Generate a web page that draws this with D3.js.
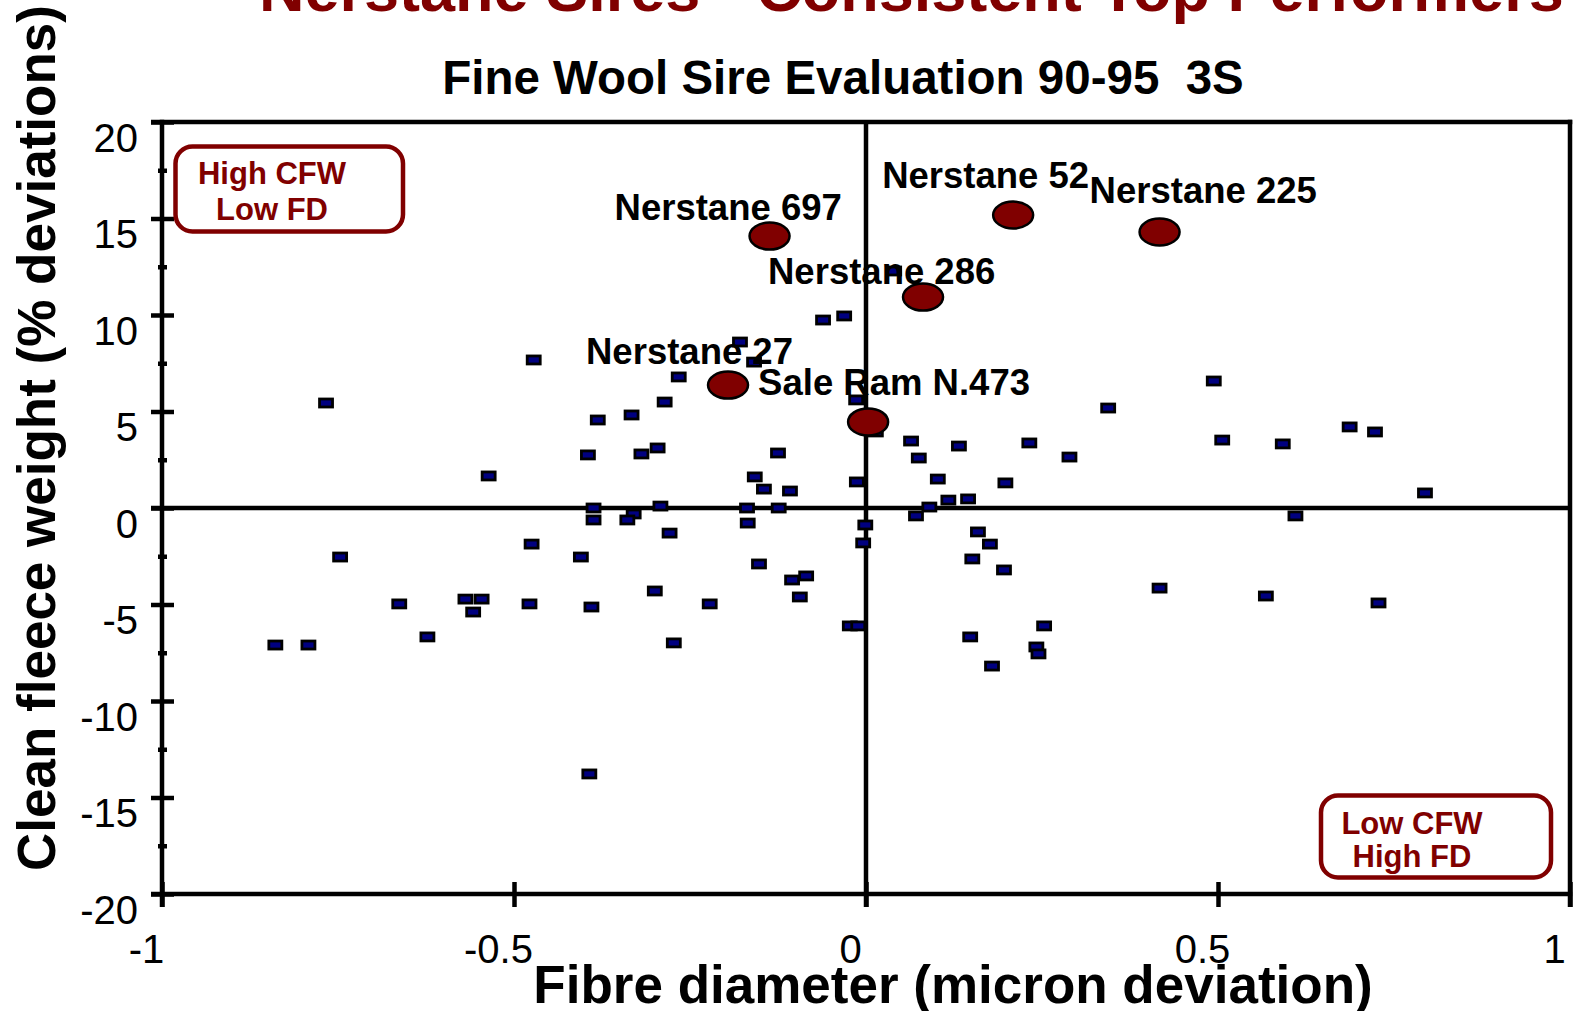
<!DOCTYPE html>
<html><head><meta charset="utf-8">
<script src="https://cdn.jsdelivr.net/npm/d3@7"></script>
<style>
body{margin:0;background:#fff;}
svg{display:block;font-family:"Liberation Sans",Arial,Helvetica,sans-serif;}
</style></head><body>
<svg id="chart" width="1577" height="1011"></svg>
<script>
// ---------- data ----------
const mainTitle = "Nerstane Sires - Consistent Top Performers";
const subTitle = "Fine Wool Sire Evaluation 90-95  3S";
const xTitle = "Fibre diameter (micron deviation)";
const yTitle = "Clean fleece weight (% deviations)";
const xTicks = [-1, -0.5, 0, 0.5, 1];
const xTickLabels = ["-1", "-0.5", "0", "0.5", "1"];
const yTicks = [20, 15, 10, 5, 0, -5, -10, -15, -20];
const yTickLabels = ["20", "15", "10", "5", "0", "-5", "-10", "-15", "-20"];
const yMinorTicks = [17.5, 12.5, 7.5, 2.5, -2.5, -7.5, -12.5, -17.5];

const sireNames = ["Nerstane 697", "Nerstane 52", "Nerstane 225", "Nerstane 286", "Nerstane 27", "Sale Ram N.473"];
const sireFD  = [-0.137, 0.209, 0.417, 0.081, -0.196, 0.003];
const sireCFW = [14.09, 15.18, 14.30, 10.93, 6.37, 4.46];

const otherFD = [
 -0.472,-0.767,-0.381,-0.395,-0.536,-0.387,-0.387,-0.475,-0.405,-0.747,
 -0.663,-0.569,-0.546,-0.558,-0.478,-0.390,-0.623,-0.839,-0.792,-0.393,
 -0.286,-0.014,-0.333,-0.319,-0.296,-0.125, 0.014, 0.064, 0.075, 0.132,
  0.232,-0.158,-0.145,-0.108,-0.013, 0.102, 0.198, 0.117, 0.145, 0.090,
  0.071,-0.330,-0.339,-0.292,-0.169,-0.124,-0.168,-0.001,-0.004,-0.279,
 -0.152,-0.105,-0.085,-0.094,-0.300,-0.222,-0.273,-0.023,-0.011, 0.159,
  0.176, 0.151, 0.196, 0.148, 0.253, 0.242, 0.245, 0.179, 0.344, 0.289,
  0.506, 0.592, 0.687, 0.723, 0.794, 0.610, 0.417, 0.568, 0.728, 0.494,
 -0.061,-0.031,-0.179,-0.159,-0.266, 0.040];
const otherCFW = [
  7.67, 5.44, 4.56, 2.75, 1.66, 0.00,-0.62,-1.87,-2.54,-2.54,
 -4.97,-4.72,-4.72,-5.39,-4.97,-5.13,-6.68,-7.10,-7.10,-13.78,
  5.49, 5.60, 4.82, 2.80, 3.11, 2.85, 3.94, 3.47, 2.59, 3.21,
  3.37, 1.61, 0.98, 0.88, 1.35, 1.50, 1.30, 0.41, 0.47, 0.05,
 -0.41,-0.31,-0.62, 0.10, 0.00, 0.00,-0.78,-0.88,-1.81,-1.30,
 -2.90,-3.73,-3.52,-4.61,-4.30,-4.97,-6.99,-6.11,-6.11,-1.24,
 -1.87,-2.64,-3.21,-6.68,-6.11,-7.20,-7.56,-8.19, 5.18, 2.64,
  3.52, 3.32, 4.20, 3.94, 0.78,-0.41,-4.15,-4.56,-4.92, 6.58,
  9.74, 9.95, 8.60, 7.56, 6.79,12.28];

const noteTopLeft = ["High CFW", "Low FD"];
const noteBottomRight = ["Low CFW", "High FD"];

// ---------- layout / style ----------
const RED = "#800000", NAVY = "#000080";
const LW = 4.5;
const labelOffsets = [[-155,-16],[-131,-27],[-70,-29],[-155,-13],[-142,-21],[-110,-27]];

const svg = d3.select("#chart");
const x = d3.scaleLinear().domain([-1, 1]).range([162, 1570]);
const y = d3.scaleLinear().domain([-20, 20]).range([894, 122]);

const lines = svg.append("g").attr("stroke", "#000").attr("stroke-width", LW).attr("stroke-linecap", "butt");
// frame: top, bottom, left, right
lines.append("line").attr("x1", x(-1) - 11).attr("x2", x(1) + LW/2).attr("y1", y(20)).attr("y2", y(20));
lines.append("line").attr("x1", x(-1) - 11).attr("x2", x(1) + LW/2).attr("y1", y(-20)).attr("y2", y(-20));
lines.append("line").attr("x1", x(-1)).attr("x2", x(-1)).attr("y1", y(20) - LW/2).attr("y2", y(-20) + 13);
lines.append("line").attr("x1", x(1)).attr("x2", x(1)).attr("y1", y(20) - LW/2).attr("y2", y(-20) + 13);
// zero lines
lines.append("line").attr("x1", x(-1) - 11).attr("x2", x(1)).attr("y1", y(0)).attr("y2", y(0));
lines.append("line").attr("x1", x(0)).attr("x2", x(0)).attr("y1", y(20)).attr("y2", y(-20) + 13);

// y axis major
const gy = svg.append("g").attr("transform", `translate(${x(-1)},0)`)
  .call(d3.axisLeft(y).tickValues(yTicks).tickSize(11).tickFormat((d, i) => yTickLabels[i]));
gy.select(".domain").remove();
gy.selectAll(".tick line").attr("x1", -11).attr("x2", 12).attr("stroke", "#000").attr("stroke-width", LW);
gy.selectAll(".tick text").attr("x", -24).attr("y", 29).attr("dy", null)
  .attr("fill", "#000").style("font-size", "40px").style("font-family", "'Liberation Sans',Arial,sans-serif");
// y axis minor
const gym = svg.append("g").attr("transform", `translate(${x(-1)},0)`)
  .call(d3.axisLeft(y).tickValues(yMinorTicks).tickSize(4).tickFormat(""));
gym.select(".domain").remove();
gym.selectAll(".tick line").attr("x1", -4).attr("x2", 5).attr("stroke", "#000").attr("stroke-width", LW);

// x axis
const gx = svg.append("g").attr("transform", `translate(0,${y(-20)})`)
  .call(d3.axisBottom(x).tickValues(xTicks).tickSize(13).tickFormat((d, i) => xTickLabels[i]));
gx.select(".domain").remove();
gx.selectAll(".tick line").attr("y1", -12).attr("y2", 13).attr("stroke", "#000").attr("stroke-width", LW);
gx.selectAll(".tick text").attr("x", -16).attr("y", 69).attr("dy", null)
  .attr("fill", "#000").style("font-size", "40px").style("font-family", "'Liberation Sans',Arial,sans-serif");

// other sires
const others = otherFD.map((d, i) => ({fd: d, cfw: otherCFW[i]}));
svg.append("g").selectAll("rect").data(others).join("rect")
  .attr("x", d => x(d.fd) - 6.5).attr("y", d => y(d.cfw) - 4)
  .attr("width", 13).attr("height", 8)
  .attr("fill", NAVY).attr("stroke", "#000").attr("stroke-width", 2.8);

// Nerstane sires
const sires = sireNames.map((n, i) => ({name: n, fd: sireFD[i], cfw: sireCFW[i], off: labelOffsets[i]}));
svg.append("g").selectAll("ellipse").data(sires).join("ellipse")
  .attr("cx", d => x(d.fd)).attr("cy", d => y(d.cfw))
  .attr("rx", 20).attr("ry", 13.5)
  .attr("fill", RED).attr("stroke", "#000").attr("stroke-width", 2.5);
svg.append("g").selectAll("text").data(sires).join("text")
  .attr("x", d => x(d.fd) + d.off[0]).attr("y", d => y(d.cfw) + d.off[1])
  .attr("font-weight", "bold").attr("font-size", 36.5).attr("fill", "#000")
  .text(d => d.name);

// quadrant notes
function note(lines, bx, by, bw, bh, cx, baselines) {
  svg.append("rect").attr("x", bx).attr("y", by).attr("width", bw).attr("height", bh)
    .attr("rx", 17).attr("ry", 17).attr("fill", "#fff").attr("stroke", RED).attr("stroke-width", LW);
  lines.forEach((t, i) => svg.append("text").attr("x", cx).attr("y", baselines[i])
    .attr("text-anchor", "middle").attr("font-weight", "bold").attr("font-size", 31).attr("fill", RED).text(t));
}
note(noteTopLeft, 175.5, 146.5, 227.5, 85, 272, [184, 220]);
note(noteBottomRight, 1321, 795.5, 230, 82, 1412, [834, 867]);

// titles
svg.append("text").attr("x", 259).attr("y", 10.7).attr("font-weight", "bold").attr("font-size", 63)
  .attr("fill", RED).text(mainTitle);
svg.append("text").attr("x", 843).attr("y", 94).attr("text-anchor", "middle").attr("font-weight", "bold")
  .attr("font-size", 47.5).attr("fill", "#000").style("white-space", "pre").text(subTitle);
svg.append("text").attr("x", 953).attr("y", 1003).attr("text-anchor", "middle").attr("font-weight", "bold")
  .attr("font-size", 53).attr("fill", "#000").text(xTitle);
svg.append("text").attr("transform", "translate(55,871) rotate(-90)").attr("text-anchor", "start")
  .attr("font-weight", "bold").attr("font-size", 53).attr("fill", "#000").text(yTitle);
</script>
</body></html>
